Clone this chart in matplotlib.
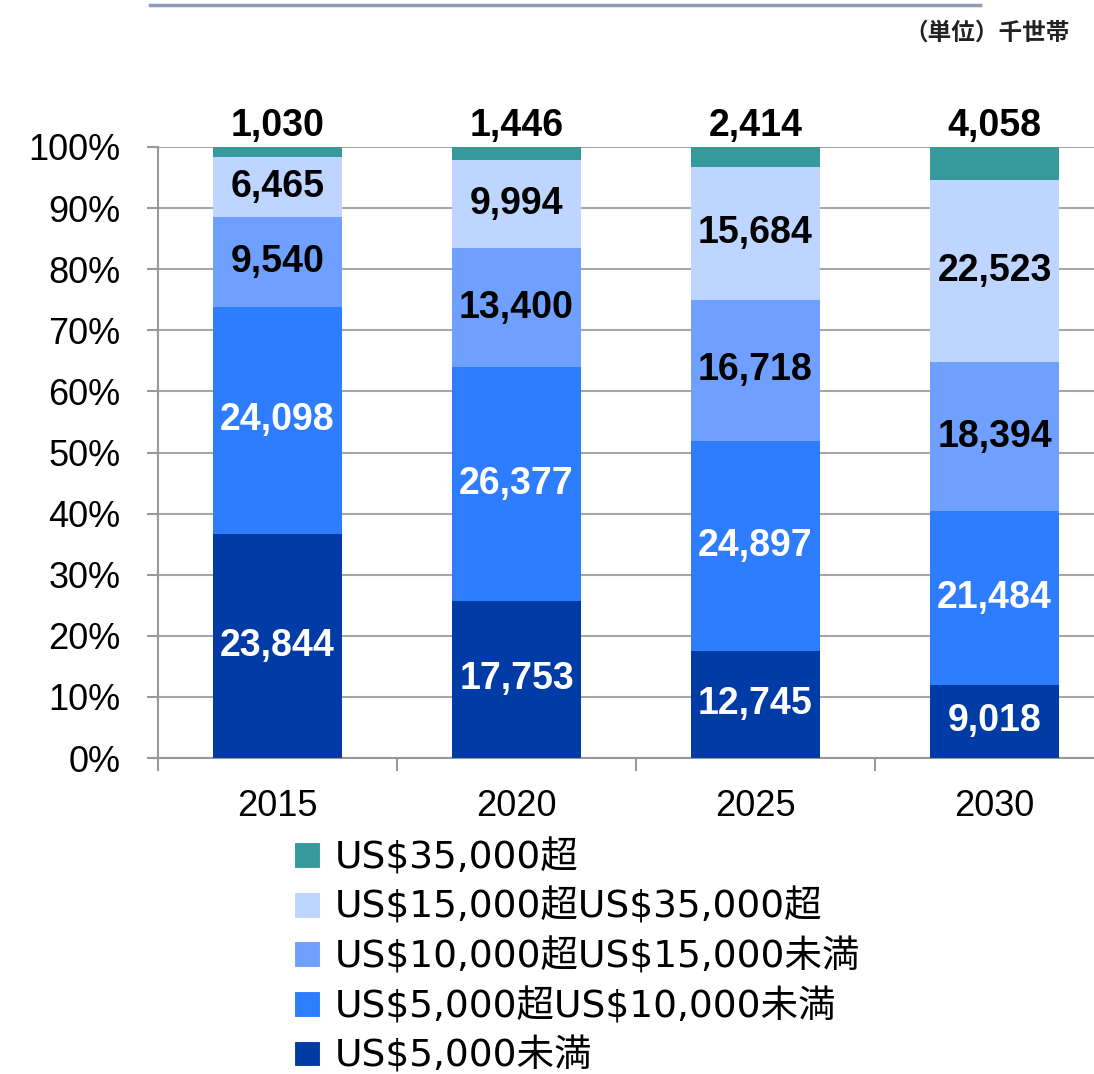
import matplotlib
matplotlib.use("Agg")
import matplotlib.pyplot as plt
import numpy as np
from matplotlib.patches import Patch
from matplotlib.lines import Line2D

plt.rcParams["font.family"] = ["Liberation Sans", "Noto Sans CJK JP"]
plt.rcParams["text.parse_math"] = False

years = ["2015", "2020", "2025", "2030"]
series_names = [
    "US$5,000未満",
    "US$5,000超US$10,000未満",
    "US$10,000超US$15,000未満",
    "US$15,000超US$35,000超",
    "US$35,000超",
]
under_5k = [23844, 17753, 12745, 9018]
k5_10 = [24098, 26377, 24897, 21484]
k10_15 = [9540, 13400, 16718, 18394]
k15_35 = [6465, 9994, 15684, 22523]
over_35k = [1030, 1446, 2414, 4058]

colors = ["#003BA6", "#2E7DFF", "#6FA0FF", "#BDD5FF", "#36999C"]
label_colors = ["white", "white", "black", "black", "black"]

data = np.array([under_5k, k5_10, k10_15, k15_35, over_35k], dtype=float)
pct = data / data.sum(axis=0) * 100

fig = plt.figure(figsize=(10.94, 10.74), dpi=100)
ax = fig.add_axes([158 / 1094, 1 - 758 / 1074, 956 / 1094, 611 / 1074])

x = np.arange(len(years))
bottom = np.zeros(len(years))
for i in range(len(series_names)):
    ax.bar(x, pct[i], 0.54, bottom=bottom, color=colors[i], zorder=3)
    for j in range(len(years)):
        if i == len(series_names) - 1:
            ypos = 100 + 0.5
            va = "bottom"
        else:
            ypos = bottom[j] + pct[i][j] / 2
            va = "center"
        ax.text(x[j], ypos, f"{int(data[i][j]):,}", ha="center", va=va,
                fontsize=27, fontweight="bold", color=label_colors[i], zorder=4)
    bottom += pct[i]

ax.set_xlim(-0.5, 3.5)
ax.set_ylim(0, 100)
ax.set_yticks(np.arange(0, 101, 10))
ax.set_yticklabels([f"{v}%" for v in range(0, 101, 10)])
ax.set_xticks(x)
ax.set_xticklabels(years)
ax.set_xticks([-0.5, 0.5, 1.5, 2.5, 3.5], minor=True)
ax.tick_params(axis="x", which="major", length=0, pad=22, labelsize=26)
ax.tick_params(axis="x", which="minor", length=9, width=1.5, color="#999999")
ax.tick_params(axis="y", length=8, width=1.5, color="#999999", pad=19, labelsize=26)
ax.grid(axis="y", color="#A6A6A6", linewidth=1.5, zorder=0)
for s in ["top", "right"]:
    ax.spines[s].set_visible(False)
for s in ["left", "bottom"]:
    ax.spines[s].set_color("#999999")
    ax.spines[s].set_linewidth(1.5)

handles = [Patch(facecolor=colors[i], edgecolor="white", linewidth=0.8) for i in range(4, -1, -1)]
labels = [series_names[i] for i in range(4, -1, -1)]
fig.legend(handles, labels, loc="upper left", bbox_to_anchor=(294 / 1094, 1 - 839 / 1074),
           frameon=False, prop={"family": ["DejaVu Sans", "Noto Sans CJK JP"], "size": 27},
           handlelength=0.68, handleheight=0.68, handletextpad=0.42, labelspacing=0.33,
           borderaxespad=0, borderpad=0)

fig.text(1070 / 1094, 1 - 33 / 1074, "（単位）千世帯", ha="right", va="center",
         fontsize=17, fontweight="bold", family=["Noto Sans CJK JP"], color="#222222")
fig.add_artist(Line2D([150 / 1094, 980 / 1094], [1 - 5 / 1074, 1 - 5 / 1074],
                      color="#8C9BB3", linewidth=2.5, transform=fig.transFigure))

fig.savefig("out.png", dpi=100, facecolor="white")
